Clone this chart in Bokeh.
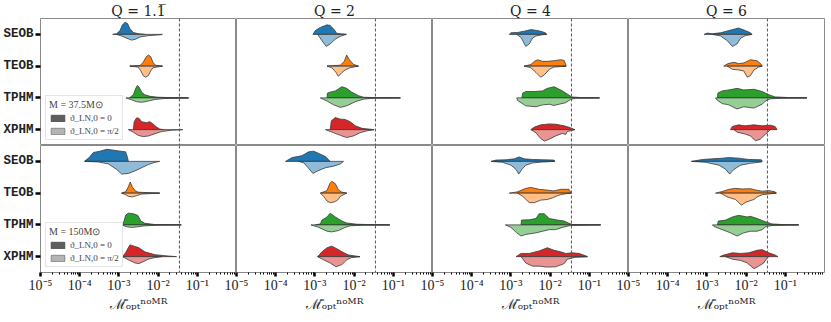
from bokeh.plotting import figure
from bokeh.layouts import column, row
from bokeh.models import (Range1d, FixedTicker, CustomJSTickFormatter, Span, Legend,
                          LegendItem, ColumnDataSource)
from bokeh.embed import file_html
from bokeh.resources import INLINE

# ---------------- data ----------------
MODELS = ["SEOB", "TEOB", "TPHM", "XPHM"]
TITLES = ["Q = 1.1\u0305", "Q = 2", "Q = 4", "Q = 6"]
MASS_LABELS = ["M = 37.5M\u2299", "M = 150M\u2299"]
THETA_LABELS = ["\u03d1_LN,0 = 0", "\u03d1_LN,0 = \u03c0/2"]
X_LABEL = "\u2133\u0304\u2092\u209a\u209c\u207f\u1d52\u1d39\u1d3f"
THRESHOLD = 0.035
X_MAJOR_TICKS = [1e-5, 1e-4, 1e-3, 1e-2, 1e-1]
DARK = ["#1f77b4", "#ff7f0e", "#2ca02c", "#d62728"]
LIGHT = ["#8fbbd9", "#ffbf86", "#95cf95", "#ea9393"]
LEGEND_DARK = "#5e5e5e"
LEGEND_LIGHT = "#b4b4b4"
NAN = float("nan")

# half-violin profiles: (log10 of mismatch, density) -- (dark: theta=0, light: theta=pi/2)
M37_Q1 = {
    "SEOB": ([(-3.16, 0), (-3.06, 0.02), (-2.97, 0.12), (-2.91, 0.30), (-2.84, 0.38), (-2.78, 0.34), (-2.72, 0.18), (-2.63, 0.06), (-2.51, 0.02), (-2.34, 0)],
             [(-3.06, 0), (-2.93, 0.05), (-2.80, 0.12), (-2.68, 0.18), (-2.59, 0.16), (-2.46, 0.08), (-2.25, 0.04), (-1.91, 0.01), (-1.89, 0)]),
    "TEOB": ([(-2.72, 0), (-2.46, 0.02), (-2.38, 0.12), (-2.31, 0.28), (-2.25, 0.35), (-2.19, 0.30), (-2.13, 0.12), (-2.07, 0.03), (-1.89, 0)],
             [(-2.72, 0), (-2.51, 0.03), (-2.44, 0.15), (-2.38, 0.30), (-2.32, 0.35), (-2.25, 0.30), (-2.19, 0.15), (-2.13, 0.05), (-1.89, 0)]),
    "TPHM": ([(-2.73, 0), (-2.63, 0.10), (-2.57, 0.30), (-2.53, 0.39), (-2.48, 0.33), (-2.42, 0.18), (-2.34, 0.10), (-2.21, 0.05), (-2.0, 0.02), (-1.58, 0.005), (-1.24, 0)],
             [(-2.82, 0), (-2.68, 0.06), (-2.55, 0.12), (-2.42, 0.14), (-2.25, 0.10), (-2.08, 0.05), (-1.83, 0.02), (-1.24, 0.005), (-1.21, 0)]),
    "XPHM": ([(-2.63, 0), (-2.61, 0.25), (-2.55, 0.37), (-2.49, 0.36), (-2.42, 0.25), (-2.30, 0.22), (-2.21, 0.25), (-2.13, 0.18), (-2.04, 0.08), (-1.96, 0.02), (-1.87, 0)],
             [(-2.76, 0), (-2.63, 0.08), (-2.51, 0.18), (-2.38, 0.22), (-2.25, 0.20), (-2.08, 0.13), (-1.91, 0.06), (-1.66, 0.02), (-1.37, 0)]),
}
M37_Q2 = {
    "SEOB": ([(-3.05, 0), (-2.99, 0.12), (-2.86, 0.22), (-2.69, 0.30), (-2.61, 0.28), (-2.51, 0.15), (-2.44, 0.03), (-2.20, 0)],
             [(-2.93, 0), (-2.82, 0.20), (-2.71, 0.38), (-2.61, 0.30), (-2.48, 0.15), (-2.35, 0.06), (-2.20, 0)]),
    "TEOB": ([(-2.69, 0), (-2.35, 0.03), (-2.25, 0.15), (-2.19, 0.35), (-2.12, 0.20), (-2.02, 0.06), (-1.89, 0)],
             [(-2.69, 0), (-2.57, 0.05), (-2.46, 0.20), (-2.40, 0.32), (-2.31, 0.20), (-2.23, 0.12), (-2.10, 0.05), (-1.89, 0)]),
    "TPHM": ([(-2.69, 0), (-2.68, 0.15), (-2.61, 0.18), (-2.48, 0.22), (-2.31, 0.35), (-2.19, 0.30), (-2.06, 0.18), (-1.89, 0.07), (-1.76, 0.02), (-1.42, 0.005), (-0.82, 0)],
             [(-2.86, 0), (-2.69, 0.10), (-2.52, 0.22), (-2.35, 0.30), (-2.19, 0.25), (-1.97, 0.12), (-1.76, 0.04), (-1.51, 0.01), (-0.82, 0)]),
    "XPHM": ([(-2.61, 0), (-2.58, 0.28), (-2.48, 0.38), (-2.35, 0.33), (-2.23, 0.32), (-2.10, 0.25), (-1.97, 0.12), (-1.80, 0.04), (-1.49, 0)],
             [(-2.73, 0), (-2.52, 0.10), (-2.35, 0.18), (-2.19, 0.25), (-2.02, 0.20), (-1.85, 0.10), (-1.68, 0.04), (-1.49, 0)]),
}
M37_Q4 = {
    "SEOB": ([(-3.04, 0), (-3.0, 0.05), (-2.83, 0.06), (-2.66, 0.10), (-2.49, 0.15), (-2.32, 0.12), (-2.19, 0.08), (-2.11, 0.04), (-2.09, 0)],
             [(-2.85, 0), (-2.74, 0.10), (-2.62, 0.38), (-2.53, 0.30), (-2.45, 0.12), (-2.36, 0.05), (-2.19, 0.01), (-2.09, 0)]),
    "TEOB": ([(-2.66, 0), (-2.49, 0.05), (-2.40, 0.15), (-2.32, 0.20), (-2.19, 0.15), (-2.07, 0.15), (-1.90, 0.17), (-1.73, 0.20), (-1.64, 0.18), (-1.59, 0)],
             [(-2.66, 0), (-2.49, 0.05), (-2.36, 0.20), (-2.24, 0.35), (-2.15, 0.28), (-2.02, 0.10), (-1.90, 0.03), (-1.59, 0)]),
    "TPHM": ([(-2.72, 0), (-2.70, 0.15), (-2.62, 0.20), (-2.40, 0.20), (-2.19, 0.22), (-2.07, 0.30), (-1.90, 0.35), (-1.73, 0.25), (-1.56, 0.12), (-1.45, 0.03), (-1.18, 0.005), (-0.74, 0)],
             [(-2.85, 0), (-2.83, 0.08), (-2.62, 0.25), (-2.36, 0.28), (-2.19, 0.22), (-2.02, 0.20), (-1.90, 0.24), (-1.77, 0.20), (-1.60, 0.15), (-1.48, 0.05), (-1.35, 0.01), (-0.74, 0)]),
    "XPHM": ([(-2.49, 0), (-2.40, 0.08), (-2.24, 0.15), (-2.02, 0.18), (-1.86, 0.17), (-1.64, 0.12), (-1.48, 0.06), (-1.37, 0)],
             [(-2.49, 0), (-2.36, 0.10), (-2.24, 0.28), (-2.15, 0.36), (-2.02, 0.30), (-1.86, 0.20), (-1.69, 0.12), (-1.60, 0.15), (-1.56, 0.06), (-1.37, 0)]),
}
M37_Q6 = {
    "SEOB": ([(-3.07, 0), (-2.99, 0.04), (-2.86, 0.02), (-2.65, 0.05), (-2.44, 0.12), (-2.19, 0.20), (-2.02, 0.12), (-1.89, 0.05), (-1.85, 0)],
             [(-2.86, 0), (-2.65, 0.05), (-2.48, 0.20), (-2.35, 0.38), (-2.23, 0.30), (-2.14, 0.12), (-2.02, 0.04), (-1.85, 0)]),
    "TEOB": ([(-2.57, 0), (-2.46, 0.08), (-2.31, 0.12), (-2.19, 0.08), (-2.06, 0.10), (-1.89, 0.20), (-1.72, 0.17), (-1.61, 0.05), (-1.59, 0)],
             [(-2.48, 0), (-2.35, 0.10), (-2.19, 0.12), (-2.06, 0.15), (-1.97, 0.35), (-1.89, 0.30), (-1.80, 0.12), (-1.68, 0.03), (-1.59, 0)]),
    "TPHM": ([(-2.73, 0), (-2.72, 0.15), (-2.61, 0.22), (-2.44, 0.25), (-2.23, 0.30), (-2.06, 0.25), (-1.80, 0.27), (-1.59, 0.20), (-1.42, 0.10), (-1.26, 0.03), (-0.92, 0.01), (-0.45, 0)],
             [(-2.78, 0), (-2.73, 0.08), (-2.61, 0.18), (-2.44, 0.22), (-2.23, 0.35), (-2.06, 0.28), (-1.80, 0.32), (-1.59, 0.20), (-1.51, 0.10), (-1.38, 0.03), (-1.09, 0.01), (-0.45, 0)]),
    "XPHM": ([(-2.40, 0), (-2.35, 0.10), (-2.19, 0.15), (-2.02, 0.12), (-1.80, 0.15), (-1.59, 0.12), (-1.38, 0.14), (-1.26, 0.10), (-1.21, 0)],
             [(-2.31, 0), (-2.23, 0.08), (-2.02, 0.14), (-1.89, 0.20), (-1.76, 0.35), (-1.64, 0.30), (-1.51, 0.15), (-1.42, 0.05), (-1.38, 0)]),
}
M150_Q1 = {
    "SEOB": ([(-3.88, 0), (-3.76, 0.12), (-3.65, 0.28), (-3.48, 0.32), (-3.31, 0.38), (-3.18, 0.36), (-3.01, 0.33), (-2.83, 0.30), (-2.78, 0.12), (-2.76, 0)],
             [(-3.86, 0), (-3.52, 0.02), (-3.27, 0.08), (-3.06, 0.25), (-2.93, 0.40), (-2.76, 0.38), (-2.59, 0.30), (-2.42, 0.20), (-2.25, 0.10), (-2.08, 0.03), (-1.96, 0)]),
    "TEOB": ([(-2.93, 0), (-2.82, 0.05), (-2.76, 0.20), (-2.71, 0.35), (-2.66, 0.20), (-2.59, 0.08), (-2.51, 0.03), (-1.96, 0)],
             [(-2.93, 0), (-2.84, 0.04), (-2.76, 0.10), (-2.66, 0.12), (-2.55, 0.08), (-2.42, 0.03), (-1.96, 0)]),
    "TPHM": ([(-2.91, 0), (-2.86, 0.15), (-2.83, 0.30), (-2.76, 0.37), (-2.63, 0.35), (-2.52, 0.30), (-2.44, 0.12), (-2.34, 0.05), (-2.08, 0.01), (-1.41, 0)],
             [(-2.93, 0), (-2.80, 0.06), (-2.68, 0.08), (-2.51, 0.06), (-2.34, 0.03), (-2.0, 0.01), (-1.41, 0)]),
    "XPHM": ([(-2.91, 0), (-2.83, 0.12), (-2.72, 0.37), (-2.61, 0.33), (-2.49, 0.28), (-2.34, 0.15), (-2.08, 0.06), (-1.75, 0.02), (-1.53, 0)],
             [(-2.91, 0), (-2.76, 0.10), (-2.59, 0.20), (-2.49, 0.22), (-2.38, 0.16), (-2.25, 0.08), (-2.08, 0.03), (-1.91, 0)]),
}
M150_Q2 = {
    "SEOB": ([(-3.75, 0), (-3.58, 0.12), (-3.45, 0.15), (-3.33, 0.18), (-3.16, 0.30), (-3.03, 0.32), (-2.90, 0.25), (-2.73, 0.15), (-2.65, 0.05), (-2.61, 0)],
             [(-3.41, 0), (-3.28, 0.05), (-3.16, 0.22), (-3.05, 0.38), (-2.93, 0.30), (-2.73, 0.20), (-2.52, 0.15), (-2.35, 0.08), (-2.27, 0)]),
    "TEOB": ([(-2.86, 0), (-2.69, 0.08), (-2.62, 0.30), (-2.57, 0.37), (-2.48, 0.30), (-2.40, 0.10), (-2.31, 0.03), (-2.19, 0)],
             [(-2.86, 0), (-2.78, 0.10), (-2.69, 0.25), (-2.61, 0.30), (-2.51, 0.28), (-2.42, 0.22), (-2.35, 0.10), (-2.19, 0)]),
    "TPHM": ([(-2.99, 0), (-2.86, 0.03), (-2.82, 0.15), (-2.69, 0.25), (-2.61, 0.37), (-2.48, 0.25), (-2.31, 0.12), (-2.19, 0.06), (-1.93, 0.02), (-1.51, 0.005), (-1.09, 0)],
             [(-3.10, 0), (-2.90, 0.08), (-2.69, 0.20), (-2.57, 0.22), (-2.40, 0.18), (-2.23, 0.08), (-2.10, 0.03), (-1.76, 0.01), (-1.09, 0)]),
    "XPHM": ([(-2.93, 0), (-2.82, 0.15), (-2.69, 0.28), (-2.57, 0.33), (-2.44, 0.25), (-2.31, 0.15), (-2.14, 0.05), (-1.85, 0)],
             [(-2.93, 0), (-2.78, 0.10), (-2.61, 0.20), (-2.46, 0.32), (-2.31, 0.25), (-2.19, 0.10), (-2.06, 0.03), (-1.85, 0)]),
}
M150_Q4 = {
    "SEOB": ([(-3.50, 0), (-3.38, 0.04), (-3.12, 0.05), (-2.91, 0.08), (-2.79, 0.14), (-2.66, 0.08), (-2.45, 0.06), (-2.19, 0.05), (-1.90, 0.04), (-1.88, 0)],
             [(-3.50, 0), (-3.21, 0.03), (-3.0, 0.12), (-2.87, 0.25), (-2.80, 0.40), (-2.72, 0.25), (-2.62, 0.12), (-2.45, 0.05), (-2.19, 0.02), (-1.88, 0)]),
    "TEOB": ([(-3.04, 0), (-2.83, 0.04), (-2.62, 0.15), (-2.49, 0.18), (-2.28, 0.12), (-2.11, 0.10), (-1.90, 0.07), (-1.73, 0.12), (-1.52, 0.12), (-1.46, 0)],
             [(-2.83, 0), (-2.70, 0.10), (-2.53, 0.30), (-2.40, 0.30), (-2.24, 0.22), (-2.07, 0.20), (-1.94, 0.15), (-1.81, 0.08), (-1.73, 0.05), (-1.60, 0.02), (-1.46, 0)]),
    "TPHM": ([(-2.74, 0), (-2.73, 0.15), (-2.53, 0.16), (-2.36, 0.20), (-2.28, 0.35), (-2.15, 0.35), (-2.02, 0.20), (-1.81, 0.15), (-1.64, 0.12), (-1.52, 0.05), (-1.43, 0.01), (-0.71, 0)],
             [(-3.14, 0), (-3.0, 0.08), (-2.85, 0.25), (-2.74, 0.35), (-2.62, 0.30), (-2.36, 0.25), (-2.19, 0.20), (-2.02, 0.15), (-1.86, 0.15), (-1.69, 0.08), (-1.48, 0.02), (-0.71, 0)]),
    "XPHM": ([(-2.87, 0), (-2.74, 0.10), (-2.53, 0.10), (-2.28, 0.18), (-2.07, 0.28), (-1.90, 0.20), (-1.73, 0.15), (-1.60, 0.10), (-1.43, 0.12), (-1.26, 0.10), (-1.08, 0.02), (-1.05, 0)],
             [(-2.74, 0), (-2.62, 0.20), (-2.45, 0.30), (-2.28, 0.30), (-2.07, 0.33), (-1.86, 0.32), (-1.64, 0.22), (-1.56, 0.08), (-1.35, 0.02), (-1.05, 0)]),
}
M150_Q6 = {
    "SEOB": ([(-3.39, 0), (-3.11, 0.06), (-2.86, 0.08), (-2.61, 0.10), (-2.44, 0.12), (-2.19, 0.10), (-1.93, 0.06), (-1.61, 0.05), (-1.59, 0)],
             [(-3.39, 0), (-3.03, 0.03), (-2.69, 0.12), (-2.52, 0.25), (-2.42, 0.40), (-2.31, 0.25), (-2.14, 0.12), (-1.89, 0.06), (-1.61, 0.02), (-1.59, 0)]),
    "TEOB": ([(-2.78, 0), (-2.61, 0.05), (-2.44, 0.12), (-2.27, 0.15), (-2.10, 0.13), (-1.89, 0.14), (-1.76, 0.10), (-1.59, 0.06), (-1.42, 0.08), (-1.26, 0.04), (-1.23, 0)],
             [(-2.65, 0), (-2.48, 0.12), (-2.27, 0.20), (-2.12, 0.38), (-2.0, 0.28), (-1.80, 0.20), (-1.72, 0.12), (-1.59, 0.05), (-1.23, 0)]),
    "TPHM": ([(-2.73, 0), (-2.71, 0.12), (-2.52, 0.15), (-2.35, 0.25), (-2.19, 0.30), (-1.97, 0.25), (-1.89, 0.27), (-1.72, 0.20), (-1.51, 0.10), (-1.34, 0.03), (-1.09, 0.01), (-0.66, 0)],
             [(-2.86, 0), (-2.82, 0.05), (-2.61, 0.15), (-2.40, 0.25), (-2.23, 0.35), (-2.06, 0.25), (-1.89, 0.20), (-1.72, 0.20), (-1.59, 0.15), (-1.49, 0.05), (-1.34, 0.02), (-0.66, 0)]),
    "XPHM": ([(-2.67, 0), (-2.57, 0.05), (-2.35, 0.12), (-2.14, 0.10), (-1.93, 0.12), (-1.72, 0.20), (-1.59, 0.22), (-1.42, 0.12), (-1.26, 0.05), (-1.19, 0)],
             [(-2.52, 0), (-2.35, 0.08), (-2.14, 0.12), (-1.97, 0.20), (-1.80, 0.38), (-1.68, 0.30), (-1.55, 0.20), (-1.47, 0.05), (-1.42, 0)]),
}
PANELS = [[M37_Q1, M37_Q2, M37_Q4, M37_Q6],
          [M150_Q1, M150_Q2, M150_Q4, M150_Q6]]

# ---------------- layout / style ----------------
FW, FH = 196, 127
OVER = 18
SERIF = "Liberation Serif"
MINOR = [k * 10.0 ** e for e in range(-5, 0) for k in range(2, 10)]
SUP_JS = """
const sup = {"-": "\u207b", "0": "\u2070", "1": "\u00b9", "2": "\u00b2", "3": "\u00b3",
             "4": "\u2074", "5": "\u2075", "6": "\u2076", "7": "\u2077", "8": "\u2078", "9": "\u2079"};
const e = Math.round(Math.log10(tick));
return "10" + String(e).split("").map(c => sup[c]).join("");
"""


def make_source(panel):
    xs, ys, fills = [], [], []
    for i, model in enumerate(MODELS):
        dark, light = panel[model]
        for prof, sign, col in ((dark, -1, DARK[i]), (light, 1, LIGHT[i])):
            xs.append([10.0 ** lx for lx, _ in prof])
            ys.append([i + sign * h for _, h in prof])
            fills.append(col)
    return ColumnDataSource(dict(xs=xs, ys=ys, fill=fills))


rows = []
for r in range(2):
    figs = []
    for c in range(4):
        kw = dict(x_axis_type="log", x_range=Range1d(1e-5, 1), y_range=Range1d(3.5, -0.5),
                  frame_width=FW, frame_height=FH, output_backend="svg",
                  toolbar_location=None, tools="",
                  min_border_left=0, min_border_right=0, min_border_top=0, min_border_bottom=0)
        if r == 0:
            kw["title"] = TITLES[c]
            kw["x_axis_location"] = None
        if c > 0:
            kw["y_axis_location"] = None
            kw["min_border_left"] = OVER
            kw["margin"] = (0, 0, 0, -OVER)
        if c == 3:
            kw["min_border_right"] = 2
        p = figure(**kw)
        p.background_fill_alpha = 0
        p.border_fill_alpha = 0
        p.grid.visible = False
        p.outline_line_color = "#8a8a8a"
        p.outline_line_width = 1

        if r == 0:
            p.title.align = "center"
            p.title.text_font = "DejaVu Serif"
            p.title.text_font_size = "14px"
            p.title.text_font_style = "normal"
            p.title.text_color = "#222222"
            p.title.standoff = 0
            p.title.offset = 0
        else:
            ax = p.xaxis[0]
            ax.ticker = FixedTicker(ticks=X_MAJOR_TICKS, minor_ticks=MINOR)
            ax.formatter = CustomJSTickFormatter(code=SUP_JS)
            ax.axis_line_color = None
            ax.major_tick_line_color = "black"
            ax.major_tick_line_width = 2.5
            ax.major_tick_out = 4
            ax.major_tick_in = 0
            ax.minor_tick_line_color = "black"
            ax.minor_tick_line_width = 1
            ax.minor_tick_out = 2
            ax.minor_tick_in = 0
            ax.major_label_text_font = SERIF
            ax.major_label_text_font_size = "14px"
            ax.major_label_text_color = "#222222"
            ax.major_label_standoff = 1
            ax.axis_label = X_LABEL
            ax.axis_label_text_font = "DejaVu Serif"
            ax.axis_label_text_font_style = "normal"
            ax.axis_label_text_font_size = "14px"
            ax.axis_label_text_color = "#222222"
            ax.axis_label_standoff = 0

        if c == 0:
            ay = p.yaxis[0]
            ay.ticker = FixedTicker(ticks=[0, 1, 2, 3])
            ay.major_label_overrides = {i: m for i, m in enumerate(MODELS)}
            ay.axis_line_color = None
            ay.major_tick_line_color = "black"
            ay.major_tick_line_width = 2.5
            ay.major_tick_out = 5
            ay.major_tick_in = 0
            ay.minor_tick_line_color = None
            ay.major_label_text_font = "Liberation Mono"
            ay.major_label_text_font_size = "12.5px"
            ay.major_label_text_font_style = "bold"
            ay.major_label_text_color = "#222222"
            ay.major_label_standoff = 2

        src = make_source(PANELS[r][c])
        p.patches(xs="xs", ys="ys", source=src, fill_color="fill", fill_alpha=1.0,
                  line_color="#3a3a3a", line_width=0.8)
        p.add_layout(Span(location=THRESHOLD, dimension="height", line_color="#555555",
                          line_dash="3 2", line_width=1))

        if c == 0:
            rd = p.quad(left=[NAN], right=[NAN], top=[NAN], bottom=[NAN],
                        fill_color=LEGEND_DARK, line_color="#444444", line_width=0.8)
            rl = p.quad(left=[NAN], right=[NAN], top=[NAN], bottom=[NAN],
                        fill_color=LEGEND_LIGHT, line_color="#777777", line_width=0.8)
            leg = Legend(items=[LegendItem(label=THETA_LABELS[0], renderers=[rd]),
                                LegendItem(label=THETA_LABELS[1], renderers=[rl])],
                         location="bottom_left", title=MASS_LABELS[r])
            leg.title_text_font = SERIF
            leg.title_text_font_size = "10px"
            leg.title_text_font_style = "normal"
            leg.title_standoff = 2
            leg.label_text_font = SERIF
            leg.label_text_font_size = "9px"
            leg.label_height = 11
            leg.label_standoff = 4
            leg.glyph_width = 17
            leg.glyph_height = 8
            leg.spacing = 2
            leg.padding = 3
            leg.margin = 5
            leg.border_line_color = "#cccccc"
            leg.background_fill_alpha = 0.85
            p.add_layout(leg)
        figs.append(p)
    rows.append(row(*figs))

layout = column(*rows)
open("out.html", "w").write(file_html(layout, INLINE))
